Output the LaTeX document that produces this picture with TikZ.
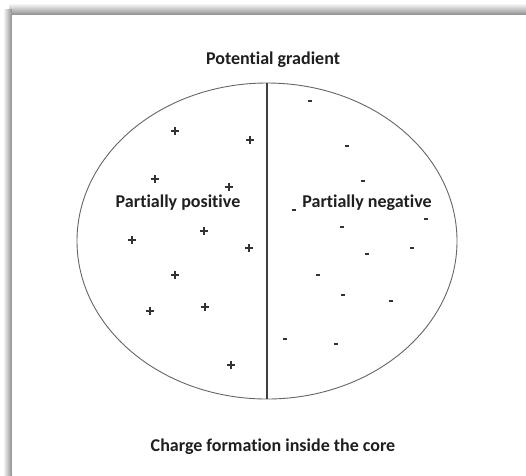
\documentclass[tikz,border=0pt]{standalone}
\usepackage{fontspec}
\setmainfont{Carlito}[Ligatures={NoCommon}]
\tikzset{
  lbl/.style={font=\fontsize{18}{20}\selectfont\bfseries, text=black!88, inner sep=0pt},
  sign/.style={line width=1.4pt, draw=black!80},
}
\begin{document}
\begin{tikzpicture}[x=1pt,y=-1pt]
\useasboundingbox (0,0) rectangle (526,475);
\fill[white] (0,0) rectangle (526,475);
% shadowed frame edges
\shade[top color=white, bottom color=black!45] (9,3) rectangle (526,15);
\shade[left color=white, right color=black!45] (3,9) rectangle (12,475);
\fill[white] (12,15) rectangle (526,475);
% core
\draw[black!60, line width=0.9pt] (267,241) ellipse [x radius=190, y radius=158];
\coordinate (top) at (267,83);
\coordinate (bot) at (267,399);
\draw[black!75, line width=1.8pt] (top) -- (bot);
% labels
\node[lbl] (title) at (273,60) {Potential gradient};
\node[lbl] (pos) at (178,203) {Partially positive};
\node[lbl] (neg) at (367,203) {Partially negative};
\node[lbl] (cap) at (273,447) {Charge formation inside the core};
% plus charges
\foreach \x/\y in {175/131, 250/140, 155/179, 229/187, 204/231, 132/240, 249/248, 175/275, 150/311, 205/307, 231/365}
  \draw[sign] (\x-3.8,\y) -- (\x+3.8,\y) (\x,\y-3.8) -- (\x,\y+3.8);
% minus charges
\foreach \x/\y in {310/101, 347/146, 363/181, 294/210, 426/219, 342/227, 412/248, 367/254, 318/275, 343/295, 391/301, 285/339, 336/344}
  \draw[sign] (\x-2.2,\y) -- (\x+2.2,\y);
\end{tikzpicture}
\end{document}
